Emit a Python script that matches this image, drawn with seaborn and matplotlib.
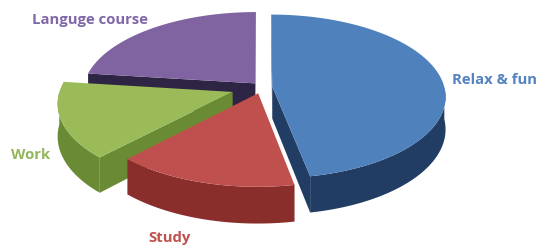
import numpy as np
import matplotlib
matplotlib.use("Agg")
import matplotlib.pyplot as plt
from matplotlib.patches import Polygon
import seaborn as sns

# ---- data ----
categories = ["Relax & fun", "Study", "Work", "Languge course"]
values = [47, 15, 15, 23]
explodes = [0.06, 0.08, 0.18, 0.06]
top_colors = ["#4F81BD", "#C0504D", "#9BBB59", "#8064A2"]
wall_colors = ["#223D63", "#8A2E2C", "#6A8B33", "#2E2443"]
label_colors = ["#5383C0", "#C0504D", "#93B55A", "#7F67A8"]

sns.set_theme(style="white")
plt.rcParams["font.family"] = ["Open Sans", "DejaVu Sans"]

fig = plt.figure(figsize=(5.39, 2.46), dpi=100)
ax = fig.add_axes([0, 0, 1, 1])
ax.set_xlim(0, 539)
ax.set_ylim(246, 0)
ax.axis("off")

# projection parameters
cx, cy, Rx, Ry = 262, 87, 172, 80.7
persp = 0.12
depth = 32


def proj(u, v, z=0.0):
    s = 1.0 / (1.0 + persp * v)
    return cx + Rx * u * s, cy - Ry * v * s + z * depth * s


vals = np.array(values, dtype=float)
frac = vals / vals.sum()
ends = 90 - np.cumsum(frac) * 360
starts = np.concatenate([[90], ends[:-1]])
mids = (starts + ends) / 2

# painter order: back slices first
order = np.argsort(-np.sin(np.radians(mids)))

for i in order:
    t1, t2 = np.radians(starts[i]), np.radians(ends[i])
    m = np.radians(mids[i])
    e = explodes[i]
    ou, ov = e * np.cos(m), e * np.sin(m)
    th = np.linspace(t1, t2, 160)
    u = ou + np.cos(th)
    v = ov + np.sin(th)

    # outer wall (front facing part)
    front = np.sin(th) < 0
    if front.any():
        tf = th[front]
        uf, vf = ou + np.cos(tf), ov + np.sin(tf)
        topx, topy = proj(uf, vf, 0)
        botx, boty = proj(uf, vf, 1)
        pts = np.column_stack([np.concatenate([topx, botx[::-1]]),
                               np.concatenate([topy, boty[::-1]])])
        ax.add_patch(Polygon(pts, closed=True, fc=wall_colors[i], ec="none", zorder=2))

    # radial walls
    for t, nrm in ((t1, t1 + np.pi / 2), (t2, t2 - np.pi / 2)):
        if np.sin(nrm) < 0.05:
            eu, ev = ou + np.cos(t), ov + np.sin(t)
            p = [proj(ou, ov, 0), proj(eu, ev, 0), proj(eu, ev, 1), proj(ou, ov, 1)]
            ax.add_patch(Polygon(p, closed=True, fc=wall_colors[i], ec="none", zorder=2))

    # top face
    px, py = proj(u, v, 0)
    cxp, cyp = proj(ou, ov, 0)
    pts = np.column_stack([np.concatenate([[cxp], px]), np.concatenate([[cyp], py])])
    ax.add_patch(Polygon(pts, closed=True, fc=top_colors[i], ec="none", zorder=3))

# labels
label_pos = {"Relax & fun": (495, 80), "Study": (170, 238), "Work": (31, 155),
             "Languge course": (89.5, 20)}
for i, name in enumerate(categories):
    x, y = label_pos[name]
    ax.text(x, y, name, color=label_colors[i], fontsize=10.7, fontweight="bold",
            ha="center", va="center", zorder=5)

fig.savefig("out.png", dpi=100)
